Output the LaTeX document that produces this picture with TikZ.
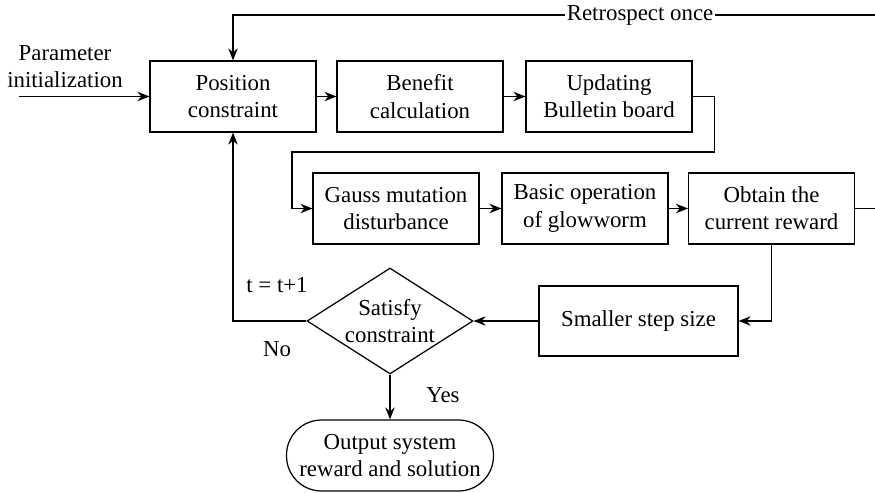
\documentclass[tikz,border=0pt]{standalone}
\usepackage{fontspec}
\setmainfont{Liberation Serif}
\usetikzlibrary{arrows.meta,shapes.geometric}

\begin{document}
\begin{tikzpicture}[x=0.02cm,y=-0.02cm,line width=0.7pt,>={Stealth[length=2.4mm,width=1.9mm]},
  every node/.style={font=\fontsize{13}{15.5}\selectfont},
  blk/.style={draw,align=center,minimum width=3.32cm,minimum height=1.42cm,inner sep=1pt},
  dec/.style={draw,diamond,align=center,aspect=1.57,minimum width=3.32cm,minimum height=2.12cm,inner sep=0pt},
  term/.style={draw,align=center,rounded corners=0.7cm,minimum width=4.14cm,minimum height=1.42cm,inner sep=1pt}]
\useasboundingbox (0,0) rectangle (875,493);
% first row
\node[blk] (pos) at (233,96.5) {Position\\constraint};
\node[blk] (ben) at (420,96.5) {Benefit\\calculation};
\node[blk] (upd) at (609,96.5) {Updating\\Bulletin board};
\node[align=center] (param) at (65,67) {Parameter\\initialization};
\coordinate (pin) at (19,96.5);
% second row
\node[blk] (gauss) at (396,208.5) {Gauss mutation\\disturbance};
\node[blk] (basic) at (585,208.5) {Basic operation\\of glowworm};
\node[blk] (obt) at (771.5,208.5) {Obtain the\\current reward};
% lower part
\node[blk,minimum width=3.98cm,minimum height=1.4cm] (small) at (638.5,321) {Smaller step size};
\node[dec] (sat) at (390,321) {Satisfy\\constraint};
\node[term] (out) at (390,455.5) {Output system\\reward and solution};
\coordinate (r1) at (875,15);
\coordinate (r2) at (875,208.5);
% connectors
\draw[->] (pin) -- (pos.west);
\draw[->] (pos) -- (ben);
\draw[->] (ben) -- (upd);
\draw[->] (upd.east) -- ++(22,0) |- (292,152) |- (gauss.west);
\draw[->] (gauss) -- (basic);
\draw[->] (basic) -- (obt);
\draw (obt.east) -- (r2);
\draw[->] (r1) -| node[pos=0.183,fill=white,inner sep=1pt] (ret) {Retrospect once} (pos.north);
\draw[->] (obt.south) |- (small.east);
\draw[->] (small.west) -- (sat.east);
\draw[->] (sat.west) -| (pos.south);
\draw[->] (sat.south) -- (out.north);
% labels
\node (tinc) at (277,285) {t = t+1};
\node (no) at (277,349) {No};
\node (yes) at (443,395) {Yes};
\end{tikzpicture}
\end{document}
